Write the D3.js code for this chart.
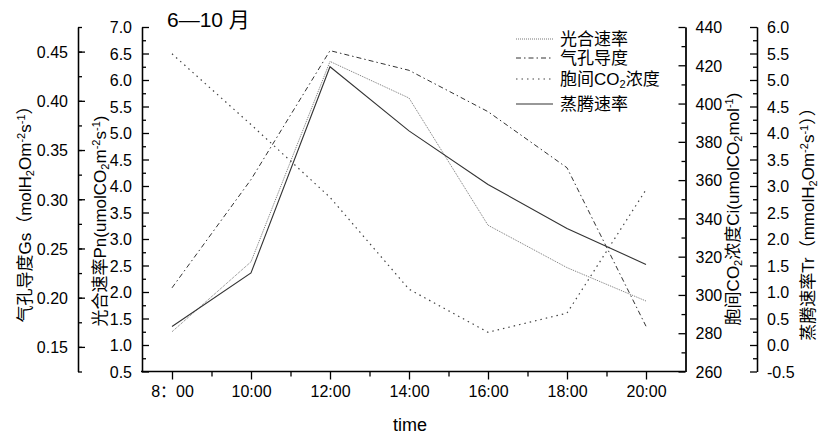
<!DOCTYPE html>
<html>
<head>
<meta charset="utf-8">
<script src="https://cdn.jsdelivr.net/npm/d3@7"></script>
<style>
  body { margin: 0; background: #fff; }
  svg text { font-family: "Liberation Sans", Arial, "Noto Sans CJK SC", sans-serif; fill: #000; }
</style>
</head>
<body>
<svg id="chart" width="818" height="436"></svg>
<script>
// data
const hours = [8, 10, 12, 14, 16, 18, 20];
const hourLabels = ["8：00", "10:00", "12:00", "14:00", "16:00", "18:00", "20:00"];
const pn = [1.25, 2.57, 6.35, 5.66, 3.26, 2.46, 1.83];      // 光合速率
const gs = [0.210, 0.320, 0.451, 0.431, 0.389, 0.332, 0.171]; // 气孔导度
const ci = [426, 389, 351, 303, 280.5, 290.5, 355];         // 胞间CO2浓度
const tr = [0.35, 1.36, 5.25, 4.04, 3.03, 2.20, 1.52];      // 蒸腾速率

const gsTicks = [0.15, 0.20, 0.25, 0.30, 0.35, 0.40, 0.45];
const pnTicks = d3.range(0.5, 7.01, 0.5);
const ciTicks = d3.range(260, 441, 20);
const trTicks = d3.range(-0.5, 6.01, 0.5);

const svg = d3.select('#chart');

// layout
const plotTop = 27, plotBottom = 371.5, plotLeft = 142, plotRight = 685.5;

const x = d3.scaleLinear().domain([8, 20]).range([172, 646]);
const yGs = d3.scaleLinear().domain([0.125, 0.475]).range([plotBottom, plotTop]);
const yPn = d3.scaleLinear().domain([0.5, 7.0]).range([plotBottom, plotTop]);
const yCi = d3.scaleLinear().domain([260, 440]).range([plotBottom, plotTop]);
const yTr = d3.scaleLinear().domain([-0.5, 6.0]).range([plotBottom, plotTop]);

function styleAxis(g, fs) {
  g.selectAll('path').attr('stroke', '#000').attr('stroke-width', 1.3);
  g.selectAll('line').attr('stroke', '#000').attr('stroke-width', 1.3);
  g.selectAll('text').style('font-size', fs + 'px').attr('fill', '#000');
}

function fmt1(d) { return d.toFixed(1); }

// a vertical axis with major + minor ticks
function vAxis(xpos, scale, ticks, minor, side, format) {
  const maker = side === 'left' ? d3.axisLeft : d3.axisRight;
  const gMinor = svg.append('g').attr('transform', 'translate(' + xpos + ',0)')
      .call(maker(scale).tickValues(minor).tickSize(-4).tickSizeOuter(0).tickFormat(''));
  styleAxis(gMinor, 16);
  const g = svg.append('g').attr('transform', 'translate(' + xpos + ',0)')
      .call(maker(scale).tickValues(ticks).tickSize(-7).tickSizeOuter(0).tickPadding(10).tickFormat(format));
  styleAxis(g, 16);
  g.selectAll('text').attr('dy', '0.36em');
}

const gsMinor = d3.range(0.125, 0.4751, 0.025);
vAxis(78, yGs, gsTicks, gsMinor, 'left', d => d.toFixed(2));
vAxis(plotLeft, yPn, pnTicks, d3.range(0.75, 7.0, 0.5), 'left', fmt1);
vAxis(plotRight, yCi, ciTicks, d3.range(270, 440, 20), 'right', d => d);
vAxis(757, yTr, trTicks, d3.range(-0.25, 6.0, 0.5), 'right', fmt1);

// bottom axis
const gxMinor = svg.append('g').attr('transform', 'translate(0,' + plotBottom + ')')
    .call(d3.axisBottom(x).tickValues([9, 11, 13, 15, 17, 19]).tickSize(5).tickFormat(''));
gxMinor.select('.domain').remove();
styleAxis(gxMinor, 16);
const gx = svg.append('g').attr('transform', 'translate(0,' + plotBottom + ')')
    .call(d3.axisBottom(x).tickValues(hours).tickSize(8).tickPadding(6)
      .tickFormat((d, i) => hourLabels[i]));
gx.select('.domain').remove();
styleAxis(gx, 16);
svg.append('line')
    .attr('x1', plotLeft - 1).attr('x2', plotRight).attr('y1', plotBottom).attr('y2', plotBottom)
    .attr('stroke', '#000').attr('stroke-width', 1.3);

// series
const series = [
  {name: '光合速率', values: pn, y: yPn, color: '#777', dash: '1,1', width: 1},
  {name: '气孔导度', values: gs, y: yGs, color: '#333', dash: '5,3,1.5,3', width: 1},
  {name: '胞间CO2浓度', values: ci, y: yCi, color: '#444', dash: '1.5,4', width: 1.2},
  {name: '蒸腾速率', values: tr, y: yTr, color: '#333', dash: null, width: 1.1}
];

series.forEach(function(s) {
  const line = d3.line()
      .x((d, i) => x(hours[i]))
      .y(d => s.y(d));
  svg.append('path')
      .datum(s.values)
      .attr('d', line)
      .attr('fill', 'none')
      .attr('stroke', s.color)
      .attr('stroke-width', s.width)
      .attr('stroke-dasharray', s.dash);
});

// rich text helper: parts = [[text, 'sub'|'sup'|null], ...]
function richText(g, parts, fs) {
  const t = g.append('text').style('font-size', fs + 'px');
  parts.forEach(function(p) {
    const span = t.append('tspan').text(p[0]);
    if (p[1]) {
      span.style('font-size', (fs * 0.65) + 'px')
          .attr('baseline-shift', p[1] === 'sub' ? '-30%' : '55%');
    }
  });
  return t;
}

function vTitle(cx, cy, parts) {
  const g = svg.append('g').attr('transform', 'translate(' + cx + ',' + cy + ') rotate(-90)');
  richText(g, parts, 17).attr('text-anchor', 'middle').attr('dy', '0.36em');
}

vTitle(25, 210, [['气孔导度Gs（molH'], ['2', 'sub'], ['Om'], ['-2', 'sup'], ['s'], ['-1', 'sup'], ['）']]);
vTitle(100, 221, [['光合速率Pn(umolCO'], ['2', 'sub'], ['m'], ['-2', 'sup'], ['s'], ['-1', 'sup'], [')']]);
vTitle(733, 209, [['胞间CO'], ['2', 'sub'], ['浓度Ci(umolCO'], ['2', 'sub'], ['mol'], ['-1', 'sup'], [')']]);
vTitle(808, 220, [['蒸腾速率Tr（mmolH'], ['2', 'sub'], ['Om'], ['-2', 'sup'], ['s'], ['-1', 'sup'], ['））']]);

// x title and chart title
svg.append('text').attr('x', 410).attr('y', 431).attr('text-anchor', 'middle')
    .style('font-size', '18px').text('time');
svg.append('text').attr('x', 167).attr('y', 27)
    .style('font-size', '21px').text('6—10 月');

// legend
const legendRows = [39, 58, 79, 104];
series.forEach(function(s, i) {
  const ly = legendRows[i];
  svg.append('line')
      .attr('x1', 516).attr('x2', 553).attr('y1', ly).attr('y2', ly)
      .attr('stroke', s.color).attr('stroke-width', s.width)
      .attr('stroke-dasharray', s.dash);
  const g = svg.append('g').attr('transform', 'translate(560,' + (ly + 6) + ')');
  if (i === 2) {
    richText(g, [['胞间CO'], ['2', 'sub'], ['浓度']], 17);
  } else {
    richText(g, [[s.name]], 17);
  }
});
</script>
</body>
</html>
